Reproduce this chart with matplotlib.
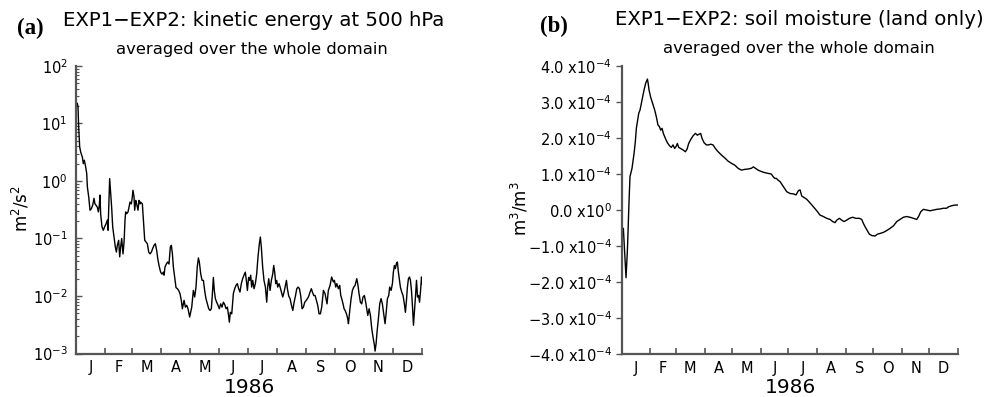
import matplotlib
matplotlib.use("Agg")
import matplotlib.pyplot as plt
from matplotlib.ticker import FixedLocator, NullFormatter, FixedFormatter, LogLocator, LogFormatterMathtext

plt.rcParams['font.family'] = ['DejaVu Sans']
plt.rcParams['mathtext.default'] = 'regular'

# ---------------- data ----------------
month_labels = ["J", "F", "M", "A", "M", "J", "J", "A", "S", "O", "N", "D"]
month_starts = [0, 31, 59, 90, 120, 151, 181, 212, 243, 273, 304, 334, 365]
year_label = "1986"

title_a = "EXP1\u2212EXP2: kinetic energy at 500 hPa"
title_b = "EXP1\u2212EXP2: soil moisture (land only)"
subtitle = "averaged over the whole domain"

# (a) kinetic energy difference, m2/s2 (day of year, value)
ke_days = [1.4, 2.1, 2.8, 3.9, 4.9, 6.7, 7.7, 8.8, 10.2, 11.3, 12.0, 13.4, 14.8, 16.2, 17.6,
           19.0, 20.0, 21.1, 22.5, 23.6, 24.6, 25.3, 26.0, 27.4, 28.8, 30.2, 31.7, 33.1, 33.8,
           34.8, 35.5, 36.6, 37.6, 38.7, 40.1, 41.5, 42.6, 43.6, 45.0, 46.1, 47.1, 48.2, 49.6,
           50.7, 51.7, 52.4, 53.5, 54.9, 55.9, 57.0, 58.4, 59.4, 60.1, 61.2, 61.9, 63.0, 64.0,
           65.4, 66.5, 67.5, 68.2, 70.0, 71.1, 72.5, 73.9, 75.3, 76.7, 78.1, 79.5, 80.9, 82.3,
           83.7, 85.1, 86.5, 87.9, 89.3, 90.7, 92.2, 92.9, 93.9, 95.3, 96.7, 98.1, 99.5, 100.6,
           101.7, 102.7, 104.1, 105.5, 106.9, 108.3, 109.7, 111.1, 112.2, 114.0, 115.4, 116.8,
           118.2, 119.9,
           122.1, 123.8, 125.2, 126.6, 127.9, 129.1, 130.1, 131.6, 133.0, 134.4, 135.7, 137.1,
           138.6, 140.0, 141.4, 142.8, 143.9, 144.9, 145.9, 147.0, 148.4, 149.8, 151.2, 152.6,
           154.0, 155.5, 156.9, 158.3, 159.7, 160.7, 161.8, 162.8, 164.3, 166.0, 167.4, 168.8,
           170.2, 171.6, 173.0, 174.4, 175.8, 177.2, 178.6, 179.7, 180.8, 182.1, 183.2, 184.3,
           185.3, 186.4, 187.8, 189.2, 190.6, 192.0, 193.4, 194.5, 195.5, 196.9, 198.3, 199.8,
           201.2, 202.2, 203.3, 204.7, 206.1, 207.5, 208.6, 209.6, 210.7, 211.7, 212.8, 214.2,
           215.3, 216.7, 218.1, 219.5, 220.9, 222.0, 223.0, 224.4, 225.8, 227.3, 228.7, 230.1,
           231.5, 232.9, 234.3, 235.7, 237.1, 238.5, 239.9, 241.3, 242.7,
           245.2, 246.9, 248.3, 249.4, 250.8, 252.2, 253.6, 255.0, 256.4, 257.8, 259.2, 261.0,
           262.7, 264.8, 266.2, 268.0, 269.7, 271.5, 272.6, 274.0, 275.1, 276.8, 278.2, 279.3,
           280.3, 281.7, 282.8, 283.9, 285.3, 286.7, 287.4, 288.8, 290.2, 291.6, 293.0, 294.4,
           296.2, 297.2, 298.6, 300.0, 301.4, 302.8, 304.2, 305.6, 306.7, 307.8, 309.2, 310.6,
           312.0, 313.4, 314.8, 315.5, 316.6, 317.6, 319.0, 320.4, 321.8, 323.2, 324.6, 326.0,
           327.1, 328.5, 329.9, 330.9, 332.4, 333.8, 334.8, 335.9, 336.9, 338.0, 339.0, 340.1,
           341.2, 342.2, 343.6, 345.0, 346.4, 347.5, 348.6, 349.6, 350.7, 351.8, 352.8, 353.9,
           355.0, 356.0, 357.1, 358.2, 359.2, 360.3, 361.4, 362.4, 363.5, 364.5, 364.9]
ke_vals = [22.4, 19.6, 8.8, 3.9, 3.2, 2.6, 2.0, 2.3, 1.76, 1.35, 0.79, 0.53, 0.31, 0.33, 0.38,
           0.50, 0.40, 0.38, 0.35, 0.29, 0.38, 0.57, 0.27, 0.16, 0.139, 0.16, 0.18, 0.21, 0.139,
           0.46, 1.10, 0.61, 0.35, 0.16, 0.106, 0.071, 0.058, 0.076, 0.093, 0.048, 0.071, 0.10, 0.054,
           0.087, 0.21, 0.29, 0.27, 0.29, 0.35, 0.43, 0.40, 0.53, 0.69, 0.53, 0.31, 0.46, 0.40,
           0.31, 0.46, 0.40, 0.43, 0.40, 0.21, 0.093, 0.087, 0.081, 0.058, 0.054, 0.058, 0.067, 0.076,
           0.081, 0.062, 0.042, 0.032, 0.026, 0.024, 0.026, 0.023, 0.032, 0.036, 0.039, 0.036, 0.071, 0.076,
           0.054, 0.032, 0.021, 0.014, 0.0134, 0.0125, 0.011, 0.0084, 0.0060, 0.0084, 0.0064, 0.0069,
           0.0060, 0.0043,
           0.0064, 0.0125, 0.0096, 0.0143, 0.032, 0.046, 0.039, 0.024, 0.0187, 0.0187, 0.0125, 0.0090,
           0.0073, 0.0060, 0.0056, 0.0060, 0.011, 0.021, 0.0125, 0.0090, 0.0078, 0.0069, 0.0060, 0.0073,
           0.0064, 0.0078, 0.0071, 0.0060, 0.0064, 0.0049, 0.0035, 0.0052, 0.0049, 0.011, 0.0134, 0.0153,
           0.0164, 0.0134, 0.0117, 0.0164, 0.020, 0.023, 0.026, 0.0187, 0.0125, 0.021, 0.0187, 0.023,
           0.0143, 0.0187, 0.0134, 0.0164, 0.024, 0.048, 0.081, 0.106, 0.071, 0.032, 0.0187, 0.0143,
           0.0078, 0.0143, 0.020, 0.0125, 0.0187, 0.024, 0.034, 0.026, 0.0164, 0.0187, 0.0143, 0.0164,
           0.0143, 0.0117, 0.0096, 0.0117, 0.0153, 0.0187, 0.0134, 0.0100, 0.0090, 0.0069, 0.0056, 0.0078,
           0.0100, 0.0134, 0.0143, 0.0134, 0.0100, 0.0060, 0.0064, 0.0078, 0.0083,
           0.0096, 0.0117, 0.0134, 0.0117, 0.0102, 0.0102, 0.0084, 0.0069, 0.0049, 0.0049, 0.0064, 0.0125,
           0.0110, 0.0073, 0.0125, 0.0153, 0.0214, 0.0175, 0.0187, 0.0143, 0.0164, 0.0134, 0.0153, 0.0102,
           0.0090, 0.0073, 0.0060, 0.0056, 0.0049, 0.0040, 0.0033, 0.0056, 0.0090, 0.0125, 0.0143, 0.0153,
           0.0200, 0.0164, 0.0110, 0.0078, 0.0073, 0.0096, 0.0102, 0.0078, 0.0060, 0.0046, 0.0060, 0.0046,
           0.0027, 0.0019, 0.0014, 0.0011, 0.0015, 0.0024, 0.0040, 0.0073, 0.0090, 0.0073, 0.0049, 0.0033,
           0.0049, 0.0090, 0.0102, 0.0143, 0.0125, 0.0164, 0.026, 0.034, 0.030, 0.0365, 0.039, 0.026,
           0.0187, 0.0143, 0.0117, 0.0102, 0.0073, 0.0052, 0.0084, 0.0143, 0.0200, 0.0214, 0.0187, 0.0125,
           0.0064, 0.0031, 0.0056, 0.0102, 0.0187, 0.0096, 0.0102, 0.0078, 0.0125, 0.0214, 0.0164]

# (b) soil moisture difference, in units of 1e-4 m3/m3
sm_days = [1.8, 4.7, 6.2, 8.0, 9.0, 11.2, 13.4, 14.8, 15.9, 18.5, 19.9, 22.1, 24.2, 26.0, 27.9,
           28.6, 29.7, 31.5, 33.6, 35.8, 37.6, 39.4, 40.9, 42.3, 43.8, 45.2, 47.4, 49.6, 52.1,
           53.9, 55.7, 57.5, 59.3, 60.4, 61.9, 64.0, 66.6, 69.1, 70.9, 72.7, 74.9, 77.4, 80.0,
           82.1, 84.3, 85.7, 87.2, 89.4, 91.9, 94.4, 96.6, 99.1, 101.7, 104.6, 108.2, 111.8,
           115.4, 119.0, 122.6, 126.3, 129.9, 133.5, 137.1, 140.7, 142.9, 145.1, 148.0, 151.6,
           155.2, 158.8, 162.4, 164.3, 166.1, 167.9, 169.7, 171.9, 175.5, 179.1, 182.7, 186.3,
           189.2, 191.8, 193.6, 195.4, 197.9, 200.8, 204.4, 208.0, 211.7, 215.3, 218.9, 222.5,
           226.1, 229.0, 231.5, 233.4, 236.3, 238.8, 241.3, 244.2, 247.1, 250.7, 254.3, 258.0,
           260.5, 262.3, 264.5, 266.6, 268.8, 271.7, 275.0, 277.5, 280.4, 284.0, 287.6, 291.2,
           294.9, 298.5, 302.1, 305.7, 309.3, 313.0, 316.6, 320.2, 322.4, 324.5, 327.4, 331.0,
           334.7, 338.3, 341.9, 345.5, 349.1, 352.7, 354.6, 358.2, 361.8, 364.7]
sm_vals = [-0.52, -1.89, -1.12, 0.27, 0.92, 1.15, 1.56, 1.89, 2.26, 2.68, 2.77, 3.05, 3.32, 3.51, 3.63,
           3.53, 3.32, 3.12, 2.95, 2.77, 2.58, 2.35, 2.31, 2.21, 2.26, 2.12, 1.98, 1.86, 1.77,
           1.73, 1.80, 1.70, 1.77, 1.84, 1.73, 1.70, 1.66, 1.61, 1.68, 1.84, 1.95, 2.05, 2.12,
           2.07, 2.10, 2.12, 1.98, 1.86, 1.80, 1.80, 1.82, 1.80, 1.70, 1.61, 1.52, 1.44,
           1.35, 1.29, 1.24, 1.15, 1.10, 1.12, 1.13, 1.15, 1.19, 1.15, 1.10, 1.06,
           1.03, 1.01, 0.99, 0.92, 0.87, 0.87, 0.82, 0.78, 0.64, 0.50, 0.45, 0.44,
           0.41, 0.53, 0.55, 0.38, 0.34, 0.29, 0.19, 0.08, -0.03, -0.15, -0.19, -0.24,
           -0.27, -0.33, -0.36, -0.29, -0.24, -0.29, -0.33, -0.29, -0.24, -0.21, -0.24, -0.24,
           -0.27, -0.38, -0.49, -0.58, -0.68, -0.72, -0.73, -0.68, -0.66, -0.63, -0.58, -0.52,
           -0.45, -0.33, -0.27, -0.21, -0.19, -0.21, -0.24, -0.27, -0.18, -0.06, 0.01, -0.01,
           -0.03, -0.01, 0.01, 0.02, 0.04, 0.04, 0.08, 0.11, 0.13, 0.13]
sm_ticks = [-4, -3, -2, -1, 0, 1, 2, 3, 4]

# ---------------- figure ----------------
W, H = 988, 397
fig = plt.figure(figsize=(W / 100, H / 100), dpi=100)


def fx(px):
    return px / W


def fy(py):
    return 1 - py / H


spine_color = "#555555"
mid_month = [(month_starts[i] + month_starts[i + 1]) / 2 for i in range(12)]


def style_xaxis(ax):
    ax.set_xlim(month_starts[0], month_starts[-1])
    ax.xaxis.set_major_locator(FixedLocator(month_starts))
    ax.xaxis.set_major_formatter(NullFormatter())
    ax.xaxis.set_minor_locator(FixedLocator(mid_month))
    ax.xaxis.set_minor_formatter(FixedFormatter(month_labels))
    ax.tick_params(axis="x", which="major", direction="in", length=4, width=1.2,
                   color=spine_color)
    ax.tick_params(axis="x", which="minor", length=0, pad=5, labelsize=10.5)
    for s in ["top", "right"]:
        ax.spines[s].set_visible(False)
    for s in ["left", "bottom"]:
        ax.spines[s].set_color(spine_color)
        ax.spines[s].set_linewidth(1.6)


# ---- panel (a)
axa = fig.add_axes([fx(76), fy(353.5), fx(422) - fx(76), fy(66) - fy(353.5)])
axa.plot(ke_days, ke_vals, color="black", lw=1.0)
axa.set_yscale("log")
axa.set_ylim(1e-3, 1e2)
axa.yaxis.set_major_locator(LogLocator(base=10, numticks=10))
axa.yaxis.set_major_formatter(LogFormatterMathtext())
axa.yaxis.set_minor_locator(LogLocator(base=10, subs=range(2, 10), numticks=20))
axa.yaxis.set_minor_formatter(NullFormatter())
axa.tick_params(axis="y", which="major", direction="in", length=4, width=1.0,
                color=spine_color, labelsize=10.5, pad=6)
axa.tick_params(axis="y", which="minor", direction="in", length=2.5, width=0.8,
                color=spine_color)
style_xaxis(axa)

# ---- panel (b)
axb = fig.add_axes([fx(621.7), fy(353.7), fx(958) - fx(621.7), fy(65.7) - fy(353.7)])
axb.plot(sm_days, sm_vals, color="black", lw=1.0)
axb.set_ylim(sm_ticks[0], sm_ticks[-1])
axb.yaxis.set_major_locator(FixedLocator(sm_ticks))
sm_labels = [("%.1f x10$^{0}$" % v) if v == 0 else ("%.1f x10$^{-4}$" % v).replace("-", "\u2212", 1)
             for v in sm_ticks]
axb.yaxis.set_major_formatter(FixedFormatter(sm_labels))
axb.tick_params(axis="y", which="major", direction="out", length=4, width=1.0,
                color=spine_color, labelsize=10.5, pad=3)
style_xaxis(axb)

# ---- texts
fig.text(fx(30), fy(34), "(a)", family="Liberation Serif", weight="bold", fontsize=16.5,
         ha="center", va="baseline")
fig.text(fx(253.5), fy(26), title_a, fontsize=14.2, ha="center", va="baseline")
fig.text(fx(252), fy(54), subtitle, fontsize=11.8, ha="center", va="baseline")
fig.text(fx(553.5), fy(32), "(b)", family="Liberation Serif", weight="bold", fontsize=16.5,
         ha="center", va="baseline")
fig.text(fx(799), fy(25), title_b, fontsize=14.2, ha="center", va="baseline")
fig.text(fx(799), fy(53), subtitle, fontsize=11.8, ha="center", va="baseline")

fig.text(fx(249), fy(393), year_label, fontsize=14.5, ha="center", va="baseline")
fig.text(fx(790), fy(393), year_label, fontsize=14.5, ha="center", va="baseline")

fig.text(fx(21), fy(209), "m$^{2}$/s$^{2}$", fontsize=12, rotation=90, ha="center", va="center")
fig.text(fx(520), fy(209), "m$^{3}$/m$^{3}$", fontsize=12, rotation=90, ha="center", va="center")

fig.savefig("out.png", dpi=100)
